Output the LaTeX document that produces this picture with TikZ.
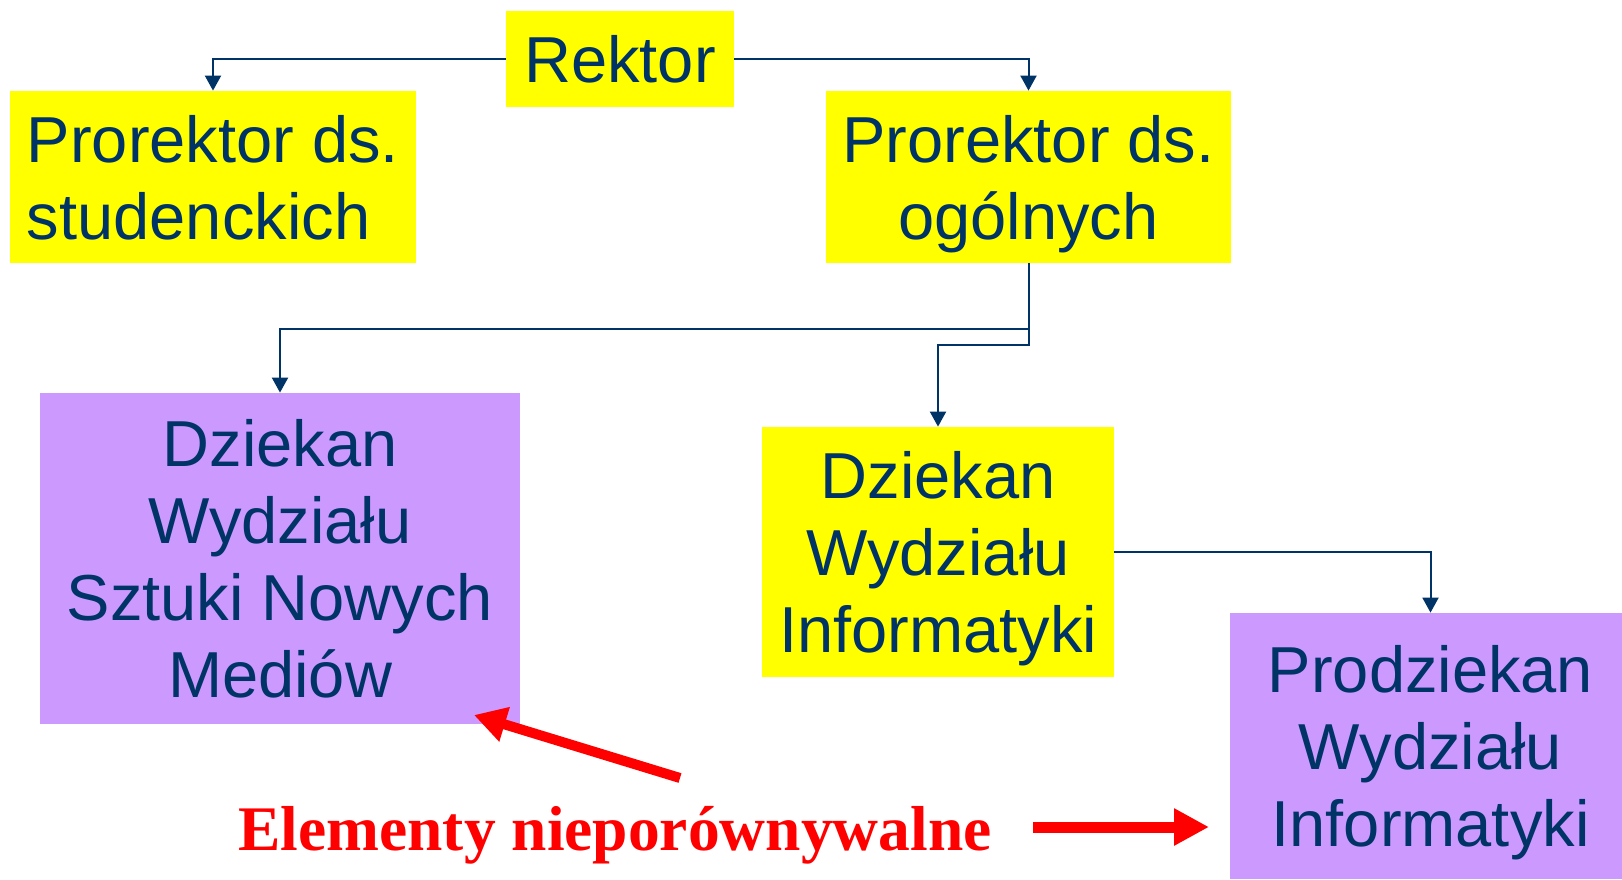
\documentclass[tikz,border=0pt]{standalone}
\usepackage{fontspec}
\setmainfont{Liberation Sans}
\newfontfamily\labelfont{Liberation Serif}
\usetikzlibrary{arrows.meta}

\definecolor{navy}{HTML}{003366}
\definecolor{lilac}{HTML}{CC99FF}
\definecolor{boxyellow}{RGB}{255,255,0}
\definecolor{hintred}{RGB}{255,0,0}

\begin{document}
\begin{tikzpicture}[x=0.5pt,y=-0.5pt,
  box/.style={rectangle, inner sep=0pt, text depth=0pt, align=center,
    text=navy, font=\fontsize{32.5}{38.5}\selectfont},
  yellowbox/.style={box, fill=boxyellow},
  lilacbox/.style={box, fill=lilac},
  conn/.style={draw=navy, line width=1pt, -{Triangle[length=7.5pt,width=8pt]}},
  hint/.style={draw=hintred, line width=5pt, -{Triangle[length=16pt,width=17pt]}}]

\useasboundingbox (0,0) rectangle (1622,879);

% boxes of the hierarchy
\node[yellowbox, minimum width=114pt, minimum height=48pt] (rektor) at (620,59) {Rektor};
\node[yellowbox, align=left, minimum width=203pt, minimum height=86pt] (prst) at (213,177)
      {Prorektor ds.\\studenckich};
\node[yellowbox, minimum width=202.5pt, minimum height=86pt] (prog) at (1028.5,177)
      {Prorektor ds.\\og\'olnych};
\node[lilacbox, minimum width=240pt, minimum height=165.5pt] (snm) at (280,558.5)
      {Dziekan\\Wydzia\l{}u\\Sztuki Nowych\\Medi\'ow};
\node[yellowbox, minimum width=176pt, minimum height=125pt] (dinf) at (938,552)
      {Dziekan\\Wydzia\l{}u\\Informatyki};
\node[lilacbox, minimum width=200.5pt, minimum height=133pt] (prodz) at (1430.5,746)
      {Prodziekan\\Wydzia\l{}u\\Informatyki};

% connectors
\draw[conn] (rektor.west) -| (prst.north);
\draw[conn] (rektor.east) -| (prog.north);
\draw[conn] (prog.south) -- ++(0,66) -| (snm.north);
\draw[conn] (prog.south) -- ++(0,82) -| (dinf.north);
\draw[conn] (dinf.east) -| (prodz.north);

% remark with pointers
\node[anchor=base west, inner sep=0pt, text=hintred,
      font=\labelfont\bfseries\fontsize{31.75}{38}\selectfont] (elem) at (238,850)
      {Elementy niepor\'ownywalne};
\coordinate (tailA) at (680,778);
\coordinate (tipA) at (474,715);
\coordinate (tailB) at (1033,827);
\coordinate (tipB) at (1209,827);
\draw[hint] (tailA) -- (tipA);
\draw[hint, line width=5.5pt, -{Triangle[length=17.5pt,width=17.5pt]}] (tailB) -- (tipB);
\end{tikzpicture}
\end{document}
